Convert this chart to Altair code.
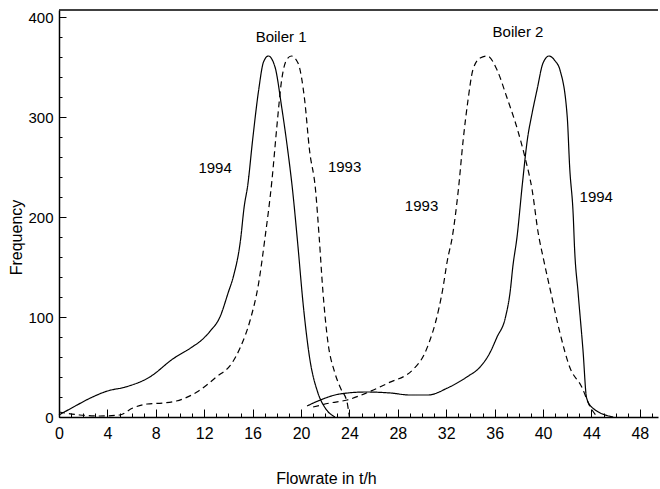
import altair as alt
import pandas as pd

# ---- data ----
b1_1994_x = [0.0, 1.2, 2.6, 4.0, 5.5, 7.5, 9.4, 11.0, 11.7, 12.5, 13.3, 14.0, 14.4, 15.0, 15.3, 15.6,
             16.0, 16.5, 16.9, 17.3, 17.85, 18.4, 18.9, 19.3, 19.7, 20.2, 20.7, 21.4, 22.0, 22.8]
b1_1994_y = [2, 10, 19, 26, 30, 40, 58, 70, 76, 86, 100, 125, 140, 177, 210, 232,
             277, 327, 355, 361, 350, 310, 267, 227, 177, 110, 60, 24, 9, 0]

b1_1993_x = [0.0, 1.7, 3.4, 5.0, 6.1, 7.3, 8.6, 9.7, 11.4, 13.0, 14.3, 15.0, 15.8, 16.5, 17.0, 17.6,
             18.0, 18.4, 18.8, 19.2, 19.75, 20.3, 20.7, 21.2, 21.5, 21.8, 22.2, 22.8, 23.3, 23.8, 24.0]
b1_1993_y = [5, 2, 1, 2, 9, 13, 14, 16, 25, 40, 54, 70, 97, 134, 177, 237,
             290, 337, 357, 361, 354, 317, 267, 227, 180, 127, 77, 44, 28, 15, 0]

b2_1994_x = [20.5, 21.6, 23.2, 25.4, 27.4, 29.0, 30.5, 32.1, 33.7, 34.8, 35.6, 36.2, 36.9, 37.3, 37.5,
             37.85, 38.3, 38.7, 39.1, 39.5, 40.0, 40.5, 41.0, 41.4, 42.0, 42.2, 42.5, 42.6, 42.9, 43.3,
             43.6, 44.1, 45.8]
b2_1994_y = [11, 17, 23, 25, 24, 22, 22, 29, 40, 50, 64, 80, 100, 127, 150,
             180, 234, 277, 304, 327, 354, 361, 356, 347, 300, 250, 200, 170, 124, 67,
             19, 9, 0]

b2_1993_x = [21.0, 22.4, 23.8, 25.4, 27.2, 29.3, 30.2, 30.6, 31.1, 31.7, 32.1, 32.5, 33.0, 33.4, 33.8,
             34.2, 34.8, 35.4, 36.2, 37.0, 37.9, 38.5, 39.1, 39.6, 40.0, 40.6, 41.4, 42.2, 43.2, 43.9, 44.5]
b2_1993_y = [10, 14, 17, 24, 34, 48, 63, 75, 94, 127, 157, 180, 227, 277, 317,
             347, 359, 361, 347, 320, 287, 260, 227, 184, 160, 127, 84, 50, 30, 10, 0]

label_text = ["Boiler 1", "Boiler 2", "1994", "1993", "1993", "1994"]
label_x = [18.35, 37.93, 12.9, 23.6, 29.96, 44.4]
label_y = [375, 380, 244, 245, 206, 215]

x_tick_labels = list(range(0, 49, 4))
y_tick_labels = [0, 100, 200, 300, 400]
x_minor = list(range(0, 50))
y_minor = list(range(0, 401, 20))

X_MAX = 49.5
Y_MAX = 407

rows = []
for name, year, xs, ys in [("B1-1994", "1994", b1_1994_x, b1_1994_y),
                           ("B1-1993", "1993", b1_1993_x, b1_1993_y),
                           ("B2-1994", "1994", b2_1994_x, b2_1994_y),
                           ("B2-1993", "1993", b2_1993_x, b2_1993_y)]:
    for i, (a, b) in enumerate(zip(xs, ys)):
        rows.append({"series": name, "year": year, "x": a, "y": b, "order": i})
df = pd.DataFrame(rows)
labels = pd.DataFrame({"text": label_text, "x": label_x, "y": label_y})
top = pd.DataFrame({"top": [Y_MAX]})

FONT = "Liberation Sans"
xs = alt.Scale(domain=[0, X_MAX], nice=False, zero=False)
ys = alt.Scale(domain=[0, Y_MAX], nice=False)

lines = alt.Chart(df).mark_line(interpolate="monotone", color="black", strokeWidth=1.2).encode(
    x=alt.X("x:Q", scale=xs, axis=alt.Axis(
        orient="bottom", values=x_tick_labels, ticks=False, grid=False,
        labelFont=FONT, labelFontSize=16, labelColor="black", labelPadding=8,
        labelFlush=False, labelOverlap=False,
        domainColor="black", domainWidth=1.5,
        title="Flowrate in t/h", titleFont=FONT, titleFontSize=16, titleFontWeight="normal",
        titleColor="black", titleX=267, titleY=66, titleAlign="center", titleBaseline="alphabetic")),
    y=alt.Y("y:Q", scale=ys, axis=alt.Axis(
        orient="left", values=y_tick_labels, ticks=False, grid=False,
        labelFont=FONT, labelFontSize=15, labelColor="black", labelPadding=6,
        labelFlush=False, labelOverlap=False,
        domainColor="black", domainWidth=1.5,
        title="Frequency", titleFont=FONT, titleFontSize=16, titleFontWeight="normal",
        titleColor="black", titleX=-43, titleY=227, titleAngle=270,
        titleAlign="center", titleBaseline="middle")),
    detail="series:N",
    order="order:Q",
    strokeDash=alt.StrokeDash("year:N", scale=alt.Scale(domain=["1993", "1994"],
                                                         range=[[6, 4], [1, 0]]), legend=None),
)

ticks = alt.Chart(df).mark_point(opacity=0).encode(
    x=alt.X("x:Q", scale=xs, axis=alt.Axis(
        orient="top", offset=-Y_MAX, values=x_minor, labels=False, domain=False, grid=False,
        tickColor="black", tickWidth=1,
        tickSize={"condition": {"test": "datum.value % 4 === 0", "value": 8}, "value": 4},
        title=None)),
    y=alt.Y("y:Q", scale=ys, axis=alt.Axis(
        orient="right", offset=-599, values=y_minor, labels=False, domain=False, grid=False,
        tickColor="black", tickWidth=1,
        tickSize={"condition": {"test": "datum.value % 100 === 0", "value": 7}, "value": 3},
        title=None)),
)

border = alt.Chart(top).mark_rule(color="black", strokeWidth=1.5).encode(
    y=alt.Y("top:Q", scale=ys, axis=None)
)

text = alt.Chart(labels).mark_text(font=FONT, fontSize=15, color="black",
                                   align="center", baseline="alphabetic").encode(
    x=alt.X("x:Q", scale=xs, axis=None),
    y=alt.Y("y:Q", scale=ys, axis=None),
    text="text:N",
)

chart = alt.layer(lines, ticks, border, text).resolve_axis(
    x="independent", y="independent"
).properties(
    width=599, height=Y_MAX,
    padding={"left": 59, "top": 10, "right": 2, "bottom": 72},
    autosize=alt.AutoSizeParams(type="none"),
    background="white",
).configure_view(stroke=None)

chart.save("out.html", embed_options={"renderer": "svg", "actions": False})
